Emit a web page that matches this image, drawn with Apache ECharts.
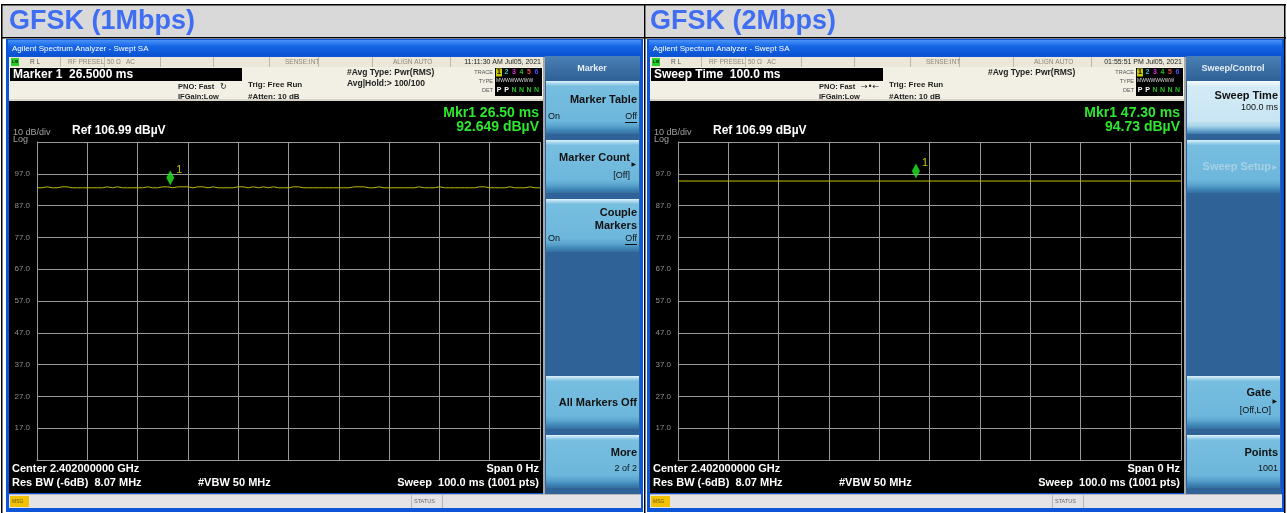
<!DOCTYPE html>
<html>
<head>
<meta charset="utf-8">
<title>GFSK</title>
<script src="https://cdn.jsdelivr.net/npm/echarts@6/dist/echarts.min.js"></script>
<style>
html,body{margin:0;padding:0;background:#fff;}
#main_chart{width:1287px;height:513px;}
</style>
</head>
<body>
<div id="main_chart"></div>
<script>
// 左屏 1Mbps 曲线: 时间(ms) / 电平(dBuV)
const timesL = [0,1,2,3,4,5,6,7,8,9,10,11,12,13,14,15,16,17,18,19,20,21,22,23,24,25,26,27,28,29,30,31,32,33,34,35,36,37,38,39,40,41,42,43,44,45,46,47,48,49,50,51,52,53,54,55,56,57,58,59,60,61,62,63,64,65,66,67,68,69,70,71,72,73,74,75,76,77,78,79,80,81,82,83,84,85,86,87,88,89,90,91,92,93,94,95,96,97,98,99,100];
const traceL = [
    92.6, 92.6, 92.9, 92.6, 92.6, 92.9, 92.9, 92.6, 92.6, 92.6,
    92.6, 92.6, 92.6, 92.6, 92.9, 92.6, 92.9, 92.6, 92.6, 92.6,
    92.6, 92.6, 92.9, 92.6, 92.6, 92.9, 92.9, 92.6, 92.9, 92.9,
    92.9, 92.6, 92.9, 92.9, 92.6, 92.9, 92.6, 92.6, 92.6, 92.6,
    92.9, 92.9, 92.6, 92.9, 92.6, 92.9, 92.6, 92.9, 92.6, 92.6,
    92.6, 92.9, 92.9, 92.6, 92.6, 92.6, 92.6, 92.6, 92.6, 92.6,
    92.6, 92.6, 92.6, 92.9, 92.9, 92.9, 92.6, 92.6, 92.9, 92.6,
    92.6, 92.6, 92.6, 92.6, 92.6, 92.6, 92.9, 92.6, 92.6, 92.6,
    92.9, 92.6, 92.6, 92.6, 92.6, 92.6, 92.6, 92.6, 92.9, 92.9,
    92.6, 92.6, 92.6, 92.6, 92.9, 92.6, 92.6, 92.6, 92.9, 92.6,
    92.6
];
// 右屏 2Mbps 曲线
const timesR = [0,10,20,30,40,50,60,70,80,90,100];
const traceR = [94.73,94.73,94.73,94.73,94.73,94.73,94.73,94.73,94.73,94.73,94.73];
// Marker 1
const markerL = [26.5, 92.649];
const markerR = [47.3, 94.73];
// 纵轴: Ref 106.99, 10 dB/div
const yMin = 7, yMax = 107, yStep = 10;
const xMin = 0, xMax = 100, xStep = 10;

const FONT = '"Liberation Sans", Arial, sans-serif';
function f(size, bold) { return (bold ? 'bold ' : '') + size + 'px ' + FONT; }
function rect(x, y, w, h, fill) {
    return {type: 'rect', shape: {x: x, y: y, width: w, height: h}, style: {fill: fill}, silent: true, z: 1};
}
function txt(x, y, s, font, fill, align) {
    return {type: 'text', x: x, y: y, silent: true, z: 2,
        style: {text: s, font: font, fill: fill, textAlign: align || 'left', textVerticalAlign: 'middle'}};
}
function grad(stops) {
    return {type: 'linear', x: 0, y: 0, x2: 0, y2: 1,
        colorStops: stops.map(function (s) { return {offset: s[0], color: s[1]}; })};
}

const btnNormal = grad([[0,'#e2f2fa'],[0.05,'#a6d6ee'],[0.1,'#77bee0'],[0.75,'#6db7dc'],[0.85,'#5aa3cd'],[0.93,'#3f86b8'],[1,'#356f9f']]);
const btnSel = grad([[0,'#f6fcfe'],[0.1,'#d4ebf6'],[0.75,'#c8e5f3'],[0.85,'#a9d4ea'],[0.93,'#6aa7cf'],[1,'#3f7aab']]);
const slotTop = [81, 140, 199, 258, 317, 376, 435];

const screens = [
    {ox: 0, head: 'GFSK (1Mbps)', time: '11:11:30 AM Jul05, 2021', box: 'Marker 1  26.5000 ms', icon: '↻',
     avg: ['#Avg Type: Pwr(RMS)', 'Avg|Hold:> 100/100'], mkr: ['Mkr1 26.50 ms', '92.649 dBµV'], panel: 'Marker',
     keys: [
        {slot: 0, items: [{t: 'Marker Table', y: 100, b: 1}, {t: 'On', y: 117, left: 1}, {t: 'Off', y: 117, u: 1}]},
        {slot: 1, items: [{t: 'Marker Count', y: 158, b: 1, r: 630}, {t: '▶', y: 164, arrow: 1}, {t: '[Off]', y: 176, r: 630}]},
        {slot: 2, items: [{t: 'Couple', y: 213, b: 1}, {t: 'Markers', y: 226, b: 1}, {t: 'On', y: 239, left: 1}, {t: 'Off', y: 239, u: 1}]},
        {slot: 5, items: [{t: 'All Markers Off', y: 403, b: 1}]},
        {slot: 6, items: [{t: 'More', y: 453, b: 1}, {t: '2 of 2', y: 469}]}
     ]},
    {ox: 641, head: 'GFSK (2Mbps)', time: '01:55:51 PM Jul05, 2021', box: 'Sweep Time  100.0 ms', icon: '→•←',
     avg: ['#Avg Type: Pwr(RMS)'], mkr: ['Mkr1 47.30 ms', '94.73 dBµV'], panel: 'Sweep/Control',
     keys: [
        {slot: 0, sel: 1, items: [{t: 'Sweep Time', y: 96, b: 1}, {t: '100.0 ms', y: 108}]},
        {slot: 1, items: [{t: 'Sweep Setup', y: 167, b: 1, r: 630, c: '#a8d0e5'}, {t: '▶', y: 167, arrow: 1, c: '#a8d0e5'}]},
        {slot: 5, items: [{t: 'Gate', y: 393, b: 1, r: 630}, {t: '▶', y: 401, arrow: 1}, {t: '[Off,LO]', y: 411, r: 630}]},
        {slot: 6, items: [{t: 'Points', y: 453, b: 1}, {t: '1001', y: 469}]}
     ]}
];

var g = [];
// 表格
g.push(rect(2, 5, 643, 33, '#d9d9d9'), rect(646, 5, 639, 33, '#d9d9d9'));
g.push(rect(1, 4, 1285, 1.5, '#000'), rect(1, 37, 1285, 1.5, '#000'));
g.push(rect(1, 4, 1.5, 509, '#000'), rect(644, 4, 1.5, 509, '#000'), rect(1284, 4, 1.5, 509, '#000'));

screens.forEach(function (s) {
    var o = s.ox;
    g.push(txt(o + 9, 22, s.head, f(27, true), '#3f6ef2'));
    // 窗口
    g.push(rect(o + 6, 39, 637, 473, '#0c55d6'));
    g.push(rect(o + 8, 40, 633, 16, grad([[0,'#4a93f8'],[0.4,'#1566e6'],[1,'#0a52d2']])));
    g.push(txt(o + 12, 48.5, 'Agilent Spectrum Analyzer - Swept SA', f(8), '#fff'));
    // 状态行
    g.push(rect(o + 9, 57, 534, 10, '#ebe8da'));
    [60, 104, 160, 213, 269, 318, 372, 450].forEach(function (x) { g.push(rect(o + x, 57, 1, 10, '#bdb9a8')); });
    g.push(rect(o + 11, 58, 8, 8, '#2ad02a'), txt(o + 12, 62, 'LXI', f(4, true), '#000'));
    g.push(txt(o + 30, 62, 'R L', f(6.5), '#555'));
    g.push(txt(o + 68, 62, 'RF PRESEL', f(6.5), '#8a877a'), txt(o + 107, 62, '50 Ω', f(6.5), '#8a877a'));
    g.push(txt(o + 126, 62, 'AC', f(6.5), '#8a877a'), txt(o + 285, 62, 'SENSE:INT', f(6.5), '#8a877a'));
    g.push(txt(o + 393, 62, 'ALIGN AUTO', f(6.5), '#8a877a'), txt(o + 541, 62, s.time, f(7), '#222', 'right'));
    // Marker 行
    g.push(rect(o + 9, 67, 534, 34, '#f2f0e4'), rect(o + 9, 99, 534, 2, '#d8d5c8'));
    g.push(rect(o + 10, 68, 232, 13, '#000'), txt(o + 13, 75, s.box, f(12, true), '#fff'));
    g.push(txt(o + 178, 87, 'PNO: Fast', f(7.5, true), '#222'), txt(o + 220, 87, s.icon, '8px "DejaVu Sans"', '#222'));
    g.push(txt(o + 178, 97, 'IFGain:Low', f(7.5, true), '#222'));
    g.push(txt(o + 248, 85, 'Trig: Free Run', f(8, true), '#222'), txt(o + 248, 97, '#Atten: 10 dB', f(8, true), '#222'));
    s.avg.forEach(function (a, i) { g.push(txt(o + 347, 73 + i * 11, a, f(8.5, true), '#222')); });
    g.push(txt(o + 493, 72, 'TRACE', f(5.5), '#555', 'right'), txt(o + 493, 81, 'TYPE', f(5.5), '#555', 'right'));
    g.push(txt(o + 493, 90, 'DET', f(5.5), '#555', 'right'));
    g.push(rect(o + 495, 68, 47, 28, '#000'), rect(o + 496, 68.5, 6, 8, '#c8c800'));
    ['#000', '#22c8c8', '#e030e0', '#22c022', '#e04848', '#5050ff'].forEach(function (c, i) {
        g.push(txt(o + 499 + i * 7.5, 72.5, String(i + 1), f(7, true), c, 'center'));
    });
    g.push(txt(o + 496, 81, 'MWWWWWWW', f(5), '#ddd'));
    ['P', 'P', 'N', 'N', 'N', 'N'].forEach(function (c, i) {
        g.push(txt(o + 499 + i * 7.5, 90, c, f(7, true), i < 2 ? '#fff' : '#22c022', 'center'));
    });
    // 黑色测量区
    g.push(rect(o + 9, 101, 534, 392, '#000'), rect(o + 543, 57, 2, 437, '#a8a8a8'));
    g.push(txt(o + 539, 113, s.mkr[0], f(14, true), '#2ee62e', 'right'));
    g.push(txt(o + 539, 127, s.mkr[1], f(14, true), '#2ee62e', 'right'));
    g.push(txt(o + 13, 133, '10 dB/div', f(9), '#a0a0a0'), txt(o + 72, 131, 'Ref 106.99 dBµV', f(12, true), '#fff'));
    g.push(txt(o + 13, 140, 'Log', f(9), '#a0a0a0'));
    g.push(txt(o + 12, 469, 'Center 2.402000000 GHz', f(11, true), '#fff'));
    g.push(txt(o + 539, 469, 'Span 0 Hz', f(11, true), '#fff', 'right'));
    g.push(txt(o + 12, 483, 'Res BW (-6dB)  8.07 MHz', f(11, true), '#fff'));
    g.push(txt(o + 198, 483, '#VBW 50 MHz', f(11, true), '#fff'));
    g.push(txt(o + 539, 483, 'Sweep  100.0 ms (1001 pts)', f(11, true), '#fff', 'right'));
    // 软键面板
    g.push(rect(o + 545, 56, 95, 438, '#2f6296'));
    g.push(rect(o + 545, 56, 95, 24, grad([[0,'#4b80b6'],[1,'#2f6296']])));
    g.push(txt(o + 592, 69, s.panel, f(9, true), '#e8eef6', 'center'));
    s.keys.forEach(function (k) {
        var y0 = slotTop[k.slot];
        g.push(rect(o + 546, y0, 93, 53, k.sel ? btnSel : btnNormal));
        k.items.forEach(function (it) {
            var c = it.c || '#111';
            if (it.arrow) {
                g.push(txt(o + 636, it.y, it.t, '6px "DejaVu Sans"', c, 'right'));
            } else if (it.left) {
                g.push(txt(o + 548, it.y, it.t, f(9), c));
            } else {
                g.push(txt(o + (it.r || 637), it.y, it.t, it.b ? f(11, true) : f(9), c, 'right'));
                if (it.u) g.push(rect(o + 625, it.y + 5, 12, 1, '#111'));
            }
        });
    });
    // MSG 栏
    g.push(rect(o + 9, 494, 632, 14, '#e5e3e5'), rect(o + 9, 494, 632, 1, '#b8b6b8'));
    g.push(rect(o + 10, 496, 19, 11, '#f2c200'), txt(o + 12, 501.5, 'MSG', f(5), '#6a5200'));
    g.push(rect(o + 411, 495, 1, 13, '#b8b6b8'), rect(o + 442, 495, 1, 13, '#b8b6b8'));
    g.push(txt(o + 414, 501.5, 'STATUS', f(5.5), '#666'));
});

function xAxisOf(i) {
    return {gridIndex: i, type: 'value', min: xMin, max: xMax, interval: xStep, z: 5,
        axisLabel: {show: false}, axisTick: {show: false},
        axisLine: {show: true, lineStyle: {color: '#9a9a9a', width: 1}},
        splitLine: {show: true, lineStyle: {color: '#9a9a9a', width: 1}}};
}
function yAxisOf(i) {
    return {gridIndex: i, type: 'value', min: yMin, max: yMax, interval: yStep, z: 5,
        axisTick: {show: false},
        axisLabel: {color: '#8e8e8e', fontSize: 8, fontFamily: FONT, margin: 7,
            showMinLabel: false, showMaxLabel: false,
            formatter: function (v) { return v.toFixed(1); }},
        axisLine: {show: true, lineStyle: {color: '#9a9a9a', width: 1}},
        splitLine: {show: true, lineStyle: {color: '#9a9a9a', width: 1}}};
}
function traceSeries(i, xs, ys, color) {
    return {type: 'line', xAxisIndex: i, yAxisIndex: i, z: 6, showSymbol: false, silent: true,
        data: xs.map(function (x, j) { return [x, ys[j]]; }),
        lineStyle: {color: color, width: 1}};
}
function markerSeries(i, m) {
    return {type: 'scatter', xAxisIndex: i, yAxisIndex: i, z: 7, silent: true,
        data: [m], symbol: 'diamond', symbolSize: [8, 15], symbolOffset: [0, -10],
        itemStyle: {color: '#22ee22'},
        label: {show: true, formatter: '1', position: 'right', distance: 2, offset: [0, -8],
            color: '#eeee00', fontSize: 11, fontFamily: FONT}};
}

const myChart = echarts.init(document.getElementById('main_chart'));
var option = {
    animation: false,
    backgroundColor: '#fff',
    graphic: {elements: g},
    grid: [
        {left: 37, top: 142, width: 503, height: 318, outerBoundsMode: 'none'},
        {left: 678, top: 142, width: 503, height: 318, outerBoundsMode: 'none'}
    ],
    xAxis: [xAxisOf(0), xAxisOf(1)],
    yAxis: [yAxisOf(0), yAxisOf(1)],
    series: [
        traceSeries(0, timesL, traceL, '#b9b900'),
        traceSeries(1, timesR, traceR, '#c2c200'),
        markerSeries(0, markerL),
        markerSeries(1, markerR)
    ]
};
myChart.setOption(option);
window.onresize = function () {
    myChart.resize();
};
</script>
</body>
</html>
